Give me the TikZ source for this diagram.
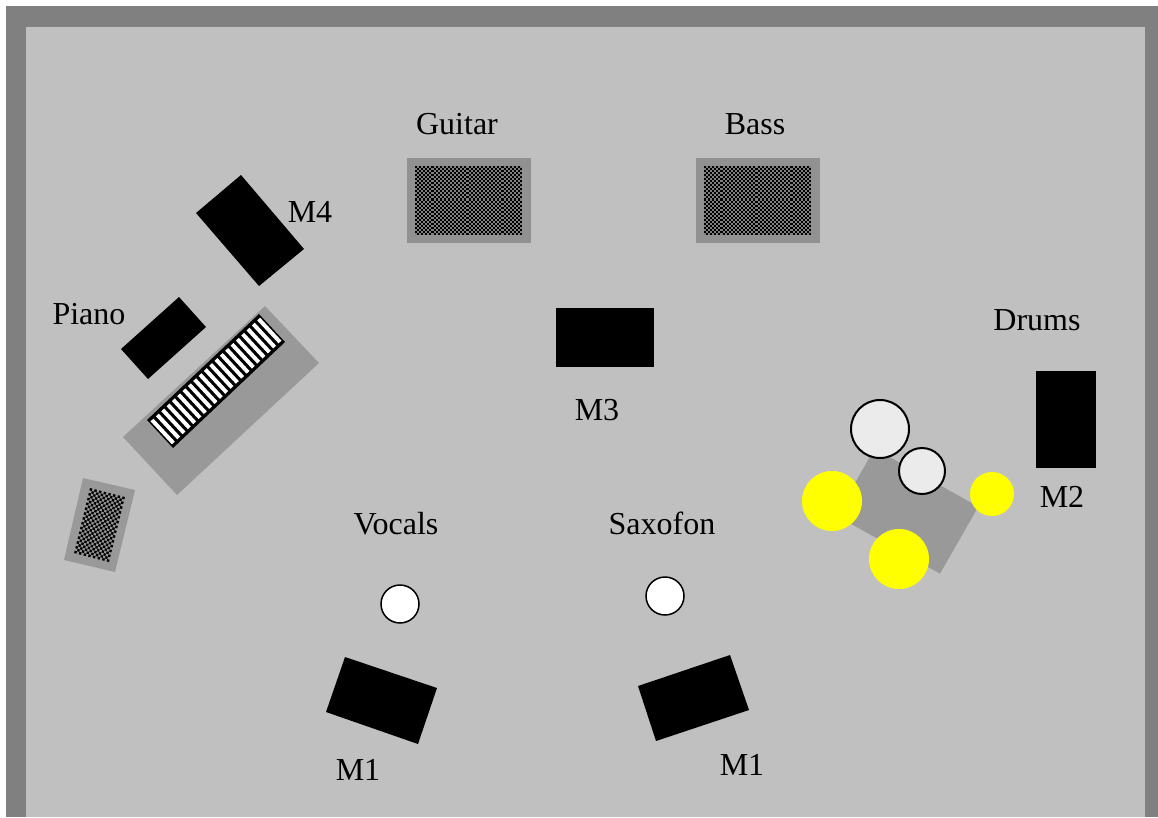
\documentclass[tikz,border=0pt]{standalone}
\usepackage{fontspec}
\setmainfont{Liberation Serif}
\definecolor{stagebg}{HTML}{C0C0C0}
\definecolor{stagerim}{HTML}{808080}
\definecolor{padgray}{HTML}{999999}
\definecolor{ampgray}{HTML}{919191}
\definecolor{tomgray}{HTML}{EBEBEB}
\definecolor{cymbal}{HTML}{FFFF00}
% checker cells, #1 = scope options, #2 = columns, #3 = rows
\newcommand{\checkerpad}[3]{%
  \begin{scope}[#1]
    \foreach \i in {1,...,#2}{
      \foreach \j in {1,...,#3}{
        \pgfmathparse{int(mod(\i+\j,2))}
        \ifnum\pgfmathresult=0
          \fill[black] (\i-1,\j-1) -- ++(1,0) -- ++(0,1) -- ++(-1,0) -- cycle;
        \fi
      }
    }
  \end{scope}}

\begin{document}
\begin{tikzpicture}[x=1pt, y=-1pt,
    lbl/.style={font=\fontsize{32}{36}\selectfont, text=black, anchor=base, inner sep=0pt},
    mic/.style={fill=white, draw=black, line width=1.5pt},
    tom/.style={fill=tomgray, draw=black, line width=2pt}]

\useasboundingbox (0,0) rectangle (1158,817);

% Stage
\fill[white] (0,0) rectangle (1158,817);
\fill[stagerim] (6,6) rectangle (1158,817);
\fill[stagebg] (26,27) rectangle (1145,817);

% Monitors
\fill[black] (196,213) -- (241,175) -- (304,249) -- (259,286) -- cycle;
\fill[black] (179,297) -- (206,327) -- (148,379) -- (121,349) -- cycle;
\fill[black] (556,308) rectangle (654,367);
\fill[black] (1036,371) rectangle (1096,468);
\fill[black] (345,657) -- (437,688) -- (418,744) -- (326,712) -- cycle;
\fill[black] (638,686) -- (730,655) -- (749,710) -- (656,741) -- cycle;

% Guitar and bass amps
\fill[ampgray] (407,158) rectangle (531,243);
\fill[gray] (415,166) rectangle (522,235);
\checkerpad{shift={(415,166)}, x={(2.058pt,0pt)}, y={(0pt,-2.03pt)}}{52}{34}
\fill[ampgray] (696,158) rectangle (820,243);
\fill[gray] (704,166) rectangle (811,235);
\checkerpad{shift={(704,166)}, x={(2.058pt,0pt)}, y={(0pt,-2.03pt)}}{52}{34}

% Piano
\fill[padgray] (265,306) -- (319,363) -- (177,495) -- (123,437) -- cycle;
\begin{scope}[shift={(147,420)}, x={(5.333pt,5.048pt)}, y={(26pt,-28pt)}]
  \fill[black] (0,0) -- (21,0) -- (21,1) -- (0,1) -- cycle;
  \foreach \i in {0,...,20}{
    \fill[white] (\i+.23,.09) -- (\i+.77,.09) -- (\i+.77,.91) -- (\i+.23,.91) -- cycle;
  }
\end{scope}

% Small amp next to the piano
\fill[padgray] (83,478) -- (135,490) -- (115,572) -- (64,560) -- cycle;
\checkerpad{shift={(90,488)}, x={(2.33pt,-.6pt)}, y={(-.59pt,-2.41pt)}}{15}{27}

% Drums
\fill[padgray] (874.6,448.6) -- (978.3,506.7) -- (940,573.7) -- (836.3,515.6) -- cycle;
\filldraw[tom] (880,429) circle (29);
\filldraw[tom] (922,471) circle (23);
\fill[cymbal] (832,501) circle (30);
\fill[cymbal] (899,559) circle (30);
\fill[cymbal] (992,494) circle (22);

% Singers
\filldraw[mic] (400,604) circle (19);
\filldraw[mic] (665,596) circle (19);

% Labels
\node[lbl] (guitar) at (457,134) {Guitar};
\node[lbl] (bass) at (755,134) {Bass};
\node[lbl] (piano) at (89,324) {Piano};
\node[lbl] (drums) at (1037,330) {Drums};
\node[lbl] (vocals) at (396,534) {Vocals};
\node[lbl] (saxofon) at (662,534) {Saxofon};
\node[lbl] (mfour) at (310,222) {M4};
\node[lbl] (mthree) at (597,420) {M3};
\node[lbl] (mtwo) at (1062,507) {M2};
\node[lbl] (moneL) at (358,780) {M1};
\node[lbl] (moneR) at (742,775) {M1};

\end{tikzpicture}
\end{document}
